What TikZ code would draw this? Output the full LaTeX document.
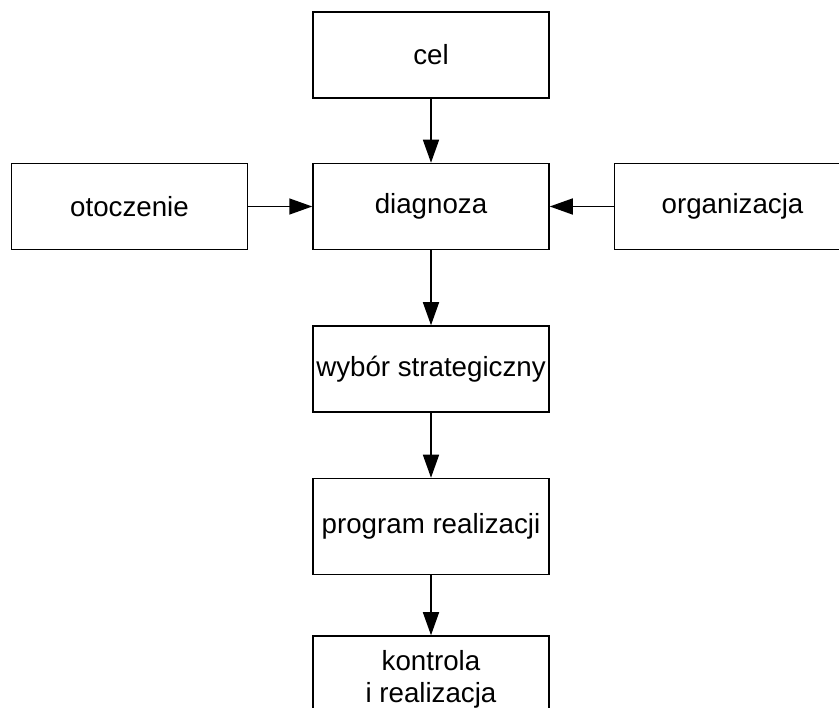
\documentclass[tikz,border=0pt]{standalone}
\usepackage{fontspec}
\setmainfont{Liberation Sans}
\usetikzlibrary{positioning, arrows.meta}

\begin{document}
\begin{tikzpicture}[
        x=1pt, y=1pt,
        node distance=64pt,
        every node/.style={align=center},
        box/.style={draw, line width=1.5pt, minimum width=236pt, minimum height=86pt,
            inner sep=0pt, font=\fontsize{27.7}{32}\selectfont},
        link/.style={line width=1.5pt, -{Triangle[length=23pt, width=16pt]}}
    ]
        \useasboundingbox (0,0) rectangle (839,-708);
        \clip (0,0) rectangle (839,-708);
        \node[box] (cel) at (431,-55) {cel};
        \node[box, below=64pt of cel] (diagnoza) {diagnoza};
        \node[box, left=64pt of diagnoza] (otoczenie) {otoczenie};
        \node[box, right=64pt of diagnoza] (organizacja) {organizacja};
        \node[box, below=75pt of diagnoza] (wybor) {wybór strategiczny};
        \node[box, below=65pt of wybor, minimum height=96pt] (program) {program realizacji};
        \node[box, below=60pt of program] (kontrola) {kontrola\\i realizacja};

        \draw[link] (cel) -- (diagnoza);
        \draw[link] (otoczenie) -- (diagnoza);
        \draw[link] (organizacja) -- (diagnoza);
        \draw[link] (diagnoza) -- (wybor);
        \draw[link] (wybor) -- (program);
        \draw[link] (program) -- (kontrola);
    \end{tikzpicture}
\end{document}
